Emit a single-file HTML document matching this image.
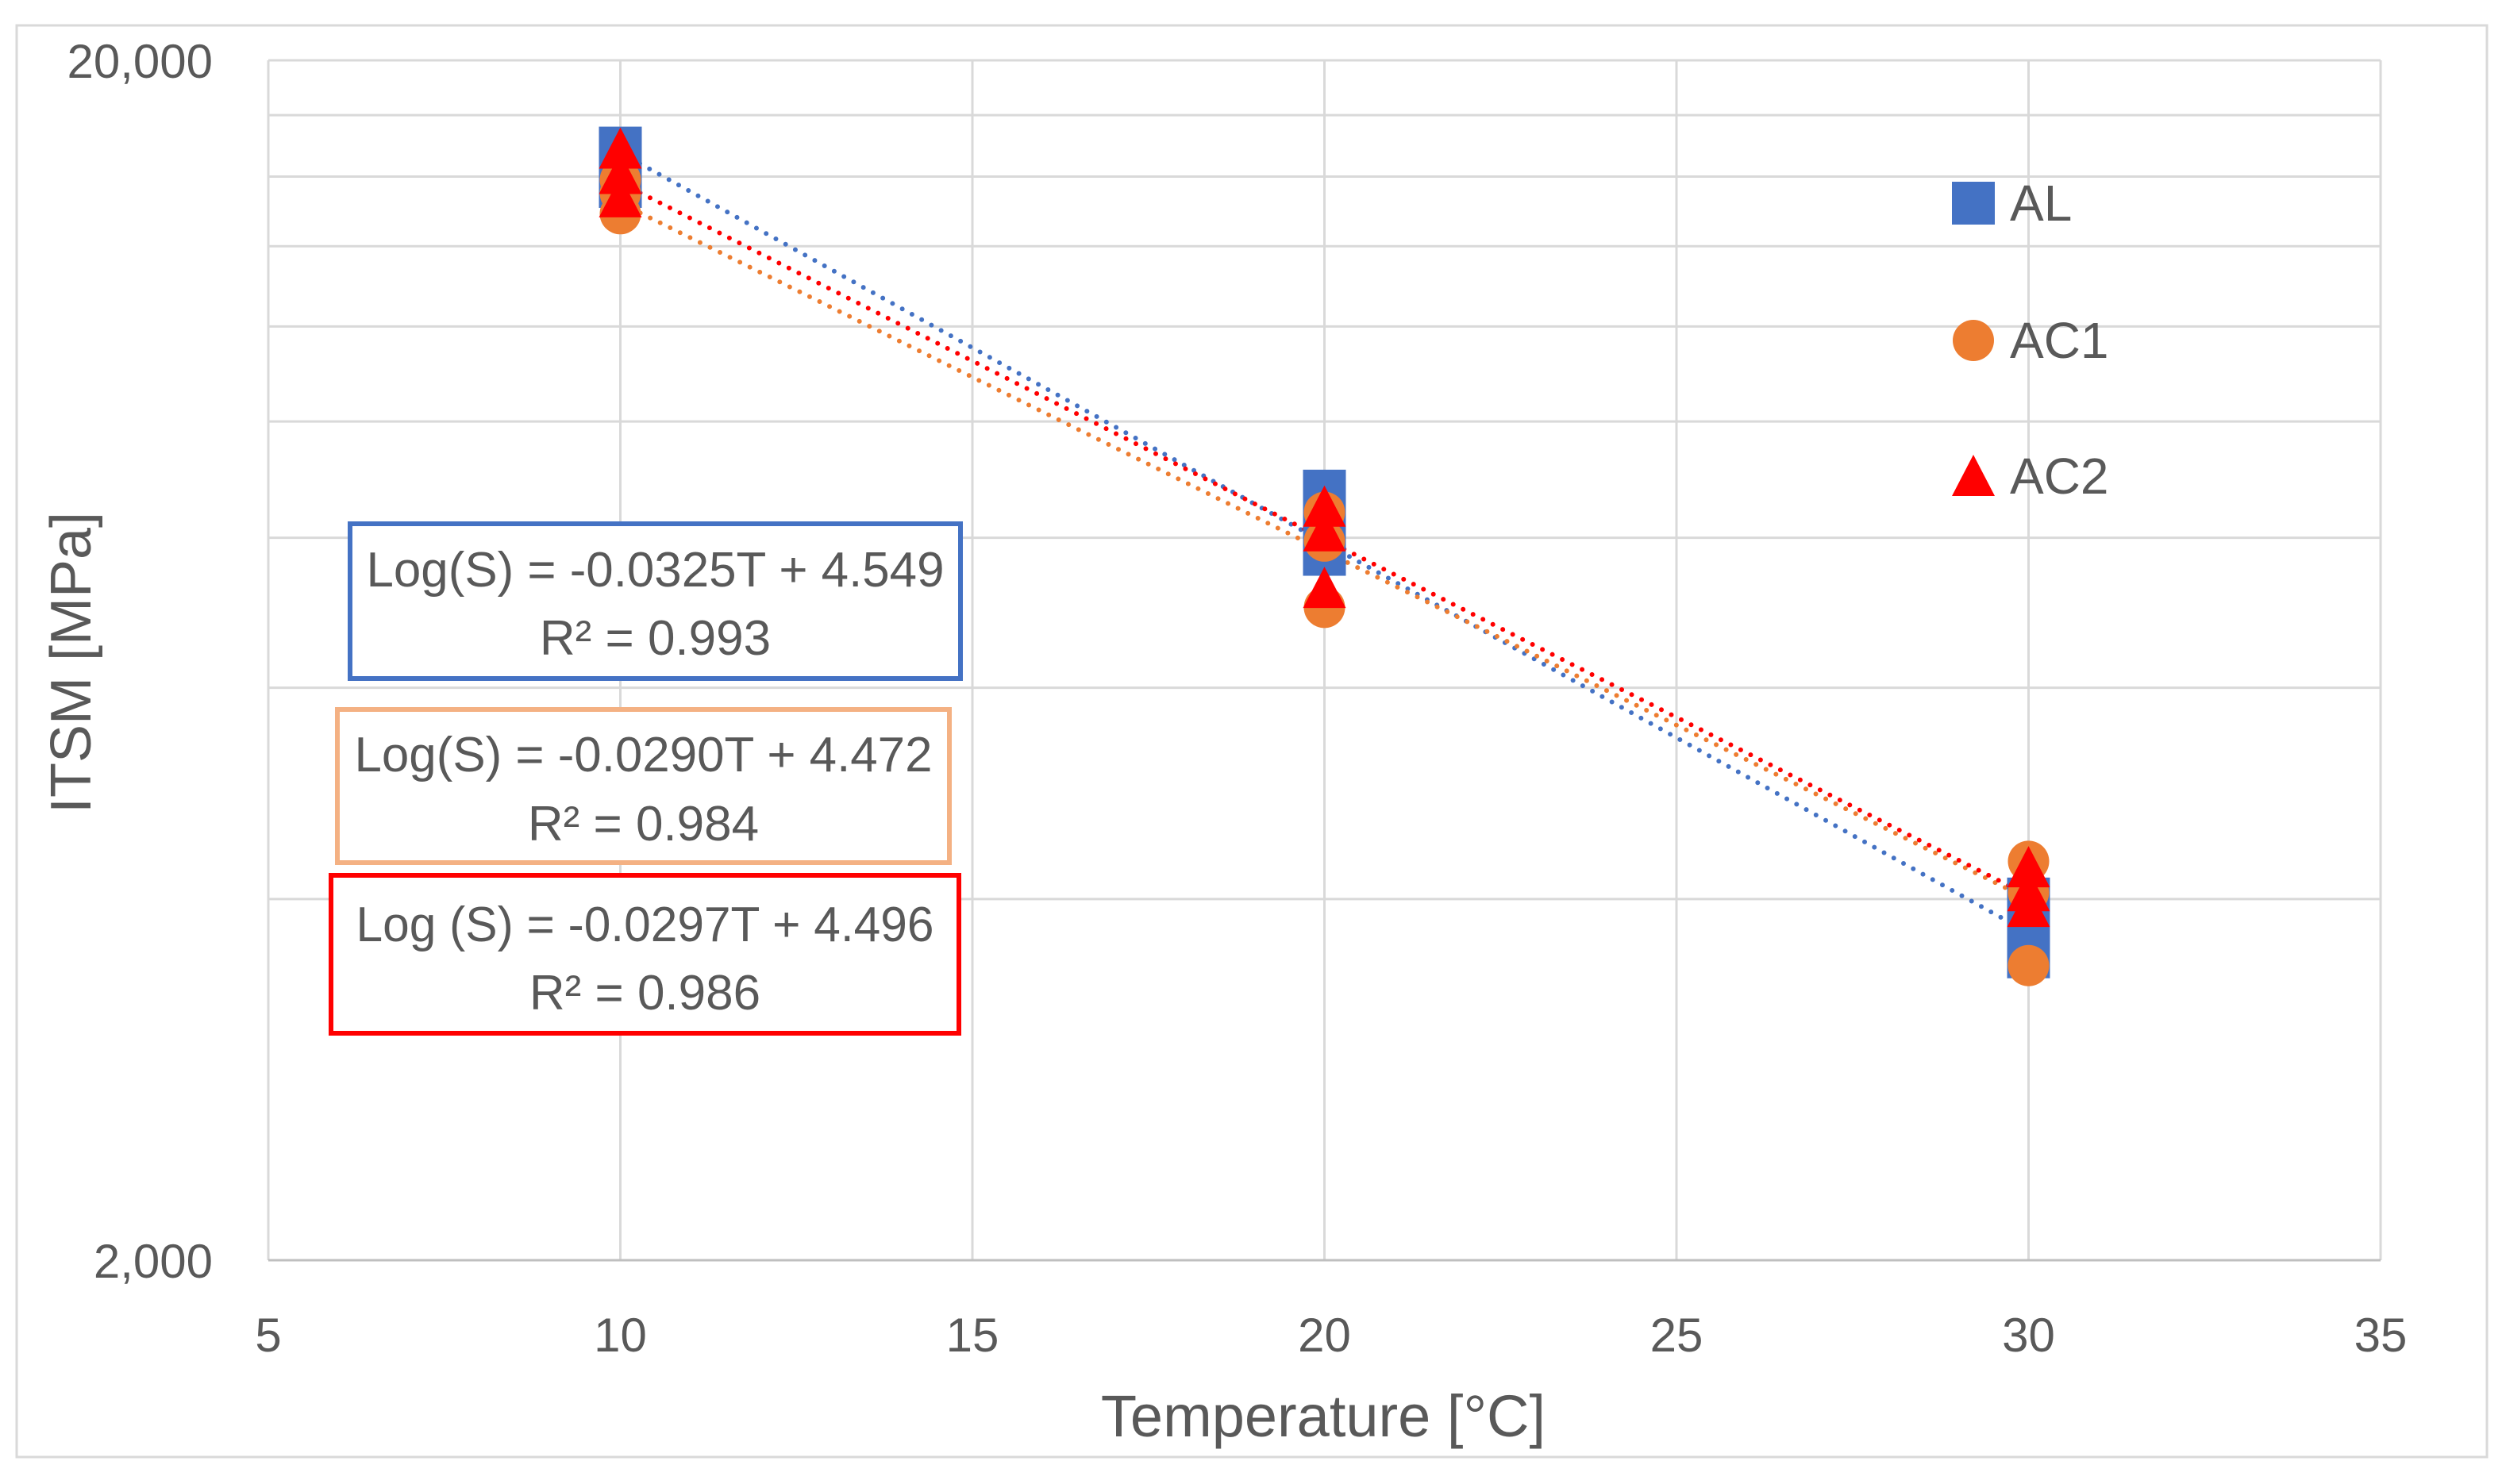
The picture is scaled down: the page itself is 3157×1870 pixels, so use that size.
<!DOCTYPE html>
<html><head><meta charset="utf-8"><style>
html,body{margin:0;padding:0;background:#fff;}
svg{display:block;font-family:"Liberation Sans",sans-serif;}
</style></head><body>
<svg id="chart" width="3157" height="1870" viewBox="0 0 3157 1870" xmlns="http://www.w3.org/2000/svg">
<rect x="21" y="32" width="3112" height="1804" fill="#fff" stroke="#d9d9d9" stroke-width="3"/>
<g id="grid"></g>
<g id="axes"></g>
<g id="trends"></g>
<g id="marks"></g>
<g id="eqs"></g>
<g id="legend"></g>
</svg>
<script>
const xTicks=[5,10,15,20,25,30,35];
const yGrid=[2000,4000,6000,8000,10000,12000,14000,16000,18000,20000];
const yLabels=[2000,20000];
const seriesNames=["AL","AC1","AC2"];
const temps=[10,10,10,20,20,20,30,30,30];
const alValues=[16900,16100,15700,8750,7750,8200,4000,3580,3700];
const ac1Values=[14900,15500,15900,7000,7950,8400,4300,3520,4050];
const ac2Values=[16800,16000,15300,8450,7230,8060,4230,4040,3920];
const slopes=[-0.0325,-0.0290,-0.0297];
const intercepts=[4.549,4.472,4.496];
const eqText=["Log(S) = -0.0325T + 4.549","Log(S) = -0.0290T + 4.472","Log (S) = -0.0297T + 4.496"];
const r2Text=["R² = 0.993","R² = 0.984","R² = 0.986"];

const NS="http://www.w3.org/2000/svg";
const L=338,R=2999,T=76,B=1588;
const xMin=5,xMax=35,yMin=2000,yMax=20000;
function xs(v){return L+(v-xMin)/(xMax-xMin)*(R-L);}
function ys(v){return B-(Math.log10(v)-Math.log10(yMin))/(Math.log10(yMax)-Math.log10(yMin))*(B-T);}
function mk(tag,attrs,parent){const e=document.createElementNS(NS,tag);for(const k in attrs)e.setAttribute(k,attrs[k]);parent.appendChild(e);return e;}
const grid=document.getElementById('grid'),axes=document.getElementById('axes'),trends=document.getElementById('trends'),marks=document.getElementById('marks'),eqs=document.getElementById('eqs'),legend=document.getElementById('legend');
const colors=["#4472C4","#ED7D31","#FF0000"];
const boxColors=["#4472C4","#F4B183","#FF0000"];
const txt="#595959";

yGrid.forEach(v=>{const l=mk('line',{x1:L,x2:R,y1:ys(v),y2:ys(v),stroke:'#d9d9d9','stroke-width':3},grid);

});
xTicks.forEach(v=>{const l=mk('line',{x1:xs(v),x2:xs(v),y1:T,y2:B,stroke:'#d9d9d9','stroke-width':3},grid);


const t=mk('text',{x:xs(v),y:1703,'text-anchor':'middle','font-size':60,fill:txt},axes);t.textContent=v;

});
const xa=mk('line',{x1:L,x2:R,y1:B,y2:B,stroke:'#bfbfbf','stroke-width':3},axes);


yLabels.forEach(v=>{const t=mk('text',{x:268,y:ys(v)+22,'text-anchor':'end','font-size':60,fill:txt},axes);t.textContent=v.toLocaleString('en-US');

});
const xt=mk('text',{x:1667,y:1810,'text-anchor':'middle','font-size':74,fill:txt},axes);xt.textContent="Temperature  [°C]";


const yt=mk('text',{x:0,y:0,'text-anchor':'middle','font-size':72,fill:txt,transform:'translate(114,835) rotate(-90)'},axes);yt.textContent="ITSM [MPa]";



[0,1,2].forEach(i=>{const y1=Math.pow(10,slopes[i]*10+intercepts[i]),y2=Math.pow(10,slopes[i]*30+intercepts[i]);
const l=mk('line',{x1:xs(10),y1:ys(y1),x2:xs(30),y2:ys(y2),stroke:colors[i],'stroke-width':6,'stroke-dasharray':'0 14','stroke-linecap':'round'},trends);

});

function marker(kind,cx,cy,parent,name){let e;
if(kind===0)e=mk('rect',{x:cx-27,y:cy-27,width:54,height:54,fill:colors[0]},parent);
else if(kind===1)e=mk('circle',{cx:cx,cy:cy,r:26,fill:colors[1]},parent);
else e=mk('polygon',{points:`${cx},${cy-30} ${cx+27},${cy+22} ${cx-27},${cy+22}`,fill:colors[2]},parent);

return e;}
[alValues,ac1Values,ac2Values].forEach((vals,i)=>{vals.forEach((v,j)=>marker(i,xs(temps[j]),ys(v),marks,'point-'+seriesNames[i].toLowerCase()));});

const boxes=[[441,660,769,195,739,825],[425,894,771,193,972,1059],[417,1103,791,199,1186,1272]];
boxes.forEach((b,i)=>{const r=mk('rect',{x:b[0],y:b[1],width:b[2],height:b[3],fill:'#fff',stroke:boxColors[i],'stroke-width':6},eqs);


const cx=b[0]+b[2]/2;
const t1=mk('text',{x:cx,y:b[4],'text-anchor':'middle','font-size':62,fill:txt,textLength:728,lengthAdjust:'spacingAndGlyphs'},eqs);t1.textContent=eqText[i];


const t2=mk('text',{x:cx,y:b[5],'text-anchor':'middle','font-size':62,fill:txt},eqs);t2.textContent=r2Text[i];

});

const legY=[256,429,600];
seriesNames.forEach((n,i)=>{marker(i,2486,legY[i]+(i===2?3:0),legend,'legend-marker');
const t=mk('text',{x:2532,y:legY[i]+22,'font-size':64,fill:txt},legend);t.textContent=n;

});
</script>
</body></html>
